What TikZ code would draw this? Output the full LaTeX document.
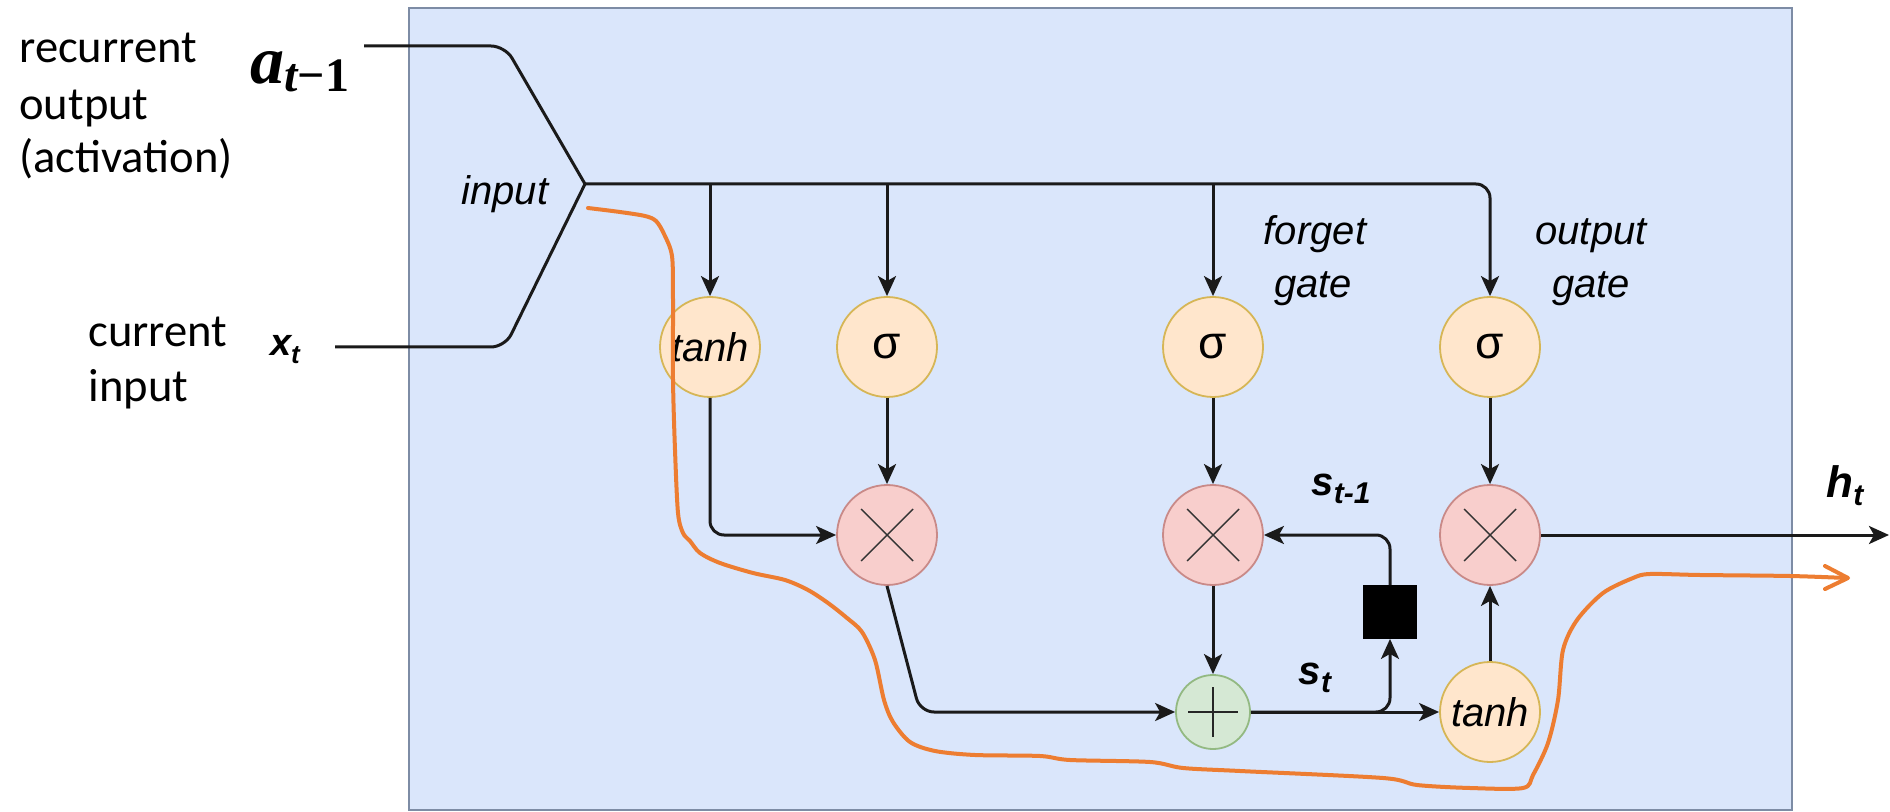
\documentclass[tikz,border=0pt]{standalone}
\usepackage{fontspec}
\setmainfont{Liberation Sans}
\newfontfamily\calfont{Carlito}
\newfontfamily\serfont{Liberation Serif}
\usetikzlibrary{arrows.meta}
\definecolor{boxfill}{HTML}{DAE6FB}
\definecolor{boxline}{HTML}{7D8CA5}
\definecolor{actfill}{HTML}{FFE6CC}
\definecolor{actline}{HTML}{D6B656}
\definecolor{mulfill}{HTML}{F8CECC}
\definecolor{mulline}{HTML}{C98A88}
\definecolor{addfill}{HTML}{D5E8D4}
\definecolor{addline}{HTML}{93B982}
\definecolor{hand}{HTML}{ED7D31}
\definecolor{ink}{HTML}{1A1A1A}
\newcommand{\mysub}[2][13]{\raisebox{-4pt}{\fontsize{#1}{#1}\selectfont #2}}
\begin{document}
\begin{tikzpicture}[x=0.5pt,y=-0.5pt,
  act/.style={circle,draw=actline,fill=actfill,line width=0.9pt,minimum size=50pt,inner sep=0pt,font=\fontsize{20}{20}\selectfont\itshape},
  sig/.style={act,font=\fontsize{23}{23}\selectfont},
  mul/.style={circle,draw=mulline,fill=mulfill,line width=0.9pt,minimum size=50pt,inner sep=0pt,
    path picture={\draw[line width=0.7pt,black!80]
      ([shift={(-26,-26)}]path picture bounding box.center) -- ([shift={(26,26)}]path picture bounding box.center)
      ([shift={(-26,26)}]path picture bounding box.center) -- ([shift={(26,-26)}]path picture bounding box.center);}},
  addc/.style={circle,draw=addline,fill=addfill,line width=0.9pt,minimum size=37pt,inner sep=0pt,
    path picture={\draw[line width=1.1pt,black!85]
      ([shift={(-25,0)}]path picture bounding box.center) -- ([shift={(25,0)}]path picture bounding box.center)
      ([shift={(0,-25)}]path picture bounding box.center) -- ([shift={(0,25)}]path picture bounding box.center);}},
  conn/.style={draw=ink,line width=1.5pt,rounded corners=7pt},
  arr/.style={conn,-{Stealth[length=10pt,width=9pt,inset=2.5pt]}},
  lbl/.style={font=\fontsize{20}{20}\selectfont\itshape,inner sep=0pt},
  mlab/.style={font=\fontsize{20}{20}\selectfont\bfseries\itshape,inner sep=0pt},
  side/.style={anchor=base west,font=\calfont\fontsize{23.3}{28}\selectfont,inner sep=0pt}
]
\useasboundingbox (0,0) rectangle (1890,812);
\fill[white] (0,0) rectangle (1890,812);
\draw[draw=boxline,fill=boxfill,line width=1pt] (409,8) rectangle (1792,810);

% side labels
\node[side] (rec1) at (19,63) {recurrent};
\node[side] (rec2) at (19,120) {output};
\node[side] (rec3) at (19,173) {(activation)};
\node[side] (cur1) at (88,347) {current};
\node[side] (cur2) at (88,402) {input};
\node[inner sep=0pt,font=\serfont\bfseries\itshape\fontsize{34}{34}\selectfont] (alab) at (300,72) {a\mysub[24]{t{\upshape −1}}};
\node[mlab,font=\fontsize{19}{19}\selectfont\bfseries\itshape] (xlab) at (285,350) {x\mysub{t}};

% nodes
\node[act] (tanh1) at (710,347) {tanh};
\node[sig] (sig1) at (887,347) {σ};
\node[sig] (sigf) at (1213,347) {σ};
\node[sig] (sigo) at (1490,347) {σ};
\node[mul] (mul1) at (887,535) {};
\node[mul] (mulf) at (1213,535) {};
\node[mul] (mulo) at (1490,535) {};
\node[addc] (add) at (1213,712) {};
\node[act] (tanh2) at (1490,712) {tanh};
\node[draw=black,fill=black,minimum size=26.5pt,inner sep=0pt] (delay) at (1390,612) {};

% labels
\node[lbl] (inlab) at (505,194) {input};
\node[lbl,anchor=base] (fg1) at (1315,245) {forget};
\node[lbl,anchor=base] (fg2) at (1313,298) {gate};
\node[lbl,anchor=base] (og1) at (1591,245) {output};
\node[lbl,anchor=base] (og2) at (1591,298) {gate};
\node[mlab] (sprev) at (1341,489) {s\mysub[15]{t-1}};
\node[mlab] (scur) at (1315,678) {s\mysub[15]{t}};
\node[mlab,font=\fontsize{22}{22}\selectfont\bfseries\itshape] (hlab) at (1845,486) {h\mysub[15]{t}};

% coordinates
\coordinate (aIn) at (364,46);
\coordinate (aBend) at (505,46);
\coordinate (jn) at (585,184);
\coordinate (xBend) at (505,347);
\coordinate (xIn) at (335,347);
\coordinate (topEnd) at (1490,184);
\coordinate (b1) at (710,184);
\coordinate (b2) at (887,184);
\coordinate (b3) at (1213,184);
\coordinate (m1bend) at (920,712);
\coordinate (hout) at (1889,535);

% connectors
\draw[conn] (aIn) -- (aBend) -- (jn);
\draw[conn] (xIn) -- (xBend) -- (jn);
\draw[arr] (jn) -- (topEnd) -- (sigo.north);
\draw[arr] (b1) -- (tanh1.north);
\draw[arr] (b2) -- (sig1.north);
\draw[arr] (b3) -- (sigf.north);
\draw[arr] (tanh1.south) |- (mul1.west);
\draw[arr] (sig1.south) -- (mul1.north);
\draw[arr] (mul1.south) -- (m1bend) -- (add.west);
\draw[arr] (sigf.south) -- (mulf.north);
\draw[arr] (mulf.south) -- (add.north);
\draw[arr] (add.east) -- (tanh2.west);
\draw[arr] (add.east) -| (delay.south);
\draw[arr] (delay.north) |- (mulf.east);
\draw[arr] (tanh2.north) -- (mulo.south);
\draw[arr] (sigo.south) -- (mulo.north);
\draw[arr] (mulo.east) -- (hout);

% hand-drawn orange path
\draw[hand,line width=2pt,line cap=round,line join=round] plot[smooth,tension=0.5] coordinates {
(588,208) (620,212) (645,216) (656,221) (664,234) (672,256) (673,300) (673,380) (675,450) (678,513)
(683,533) (690,541) (700,553) (720,563) (753,573) (785,580) (808,590) (828,603) (847,618) (862,632)
(875,660) (884,700) (893,722) (910,742) (935,751) (975,755) (1040,756) (1070,760) (1150,762) (1183,768)
(1240,771) (1383,778) (1417,785) (1470,788) (1523,788) (1533,775) (1548,743) (1558,700) (1563,650)
(1577,620) (1603,593) (1633,578) (1650,574) (1700,575) (1790,576) (1846,578)};
\draw[hand,line width=2pt,line cap=round,line join=round] (1825,566) -- (1848,578) -- (1825,589);
\end{tikzpicture}
\end{document}
